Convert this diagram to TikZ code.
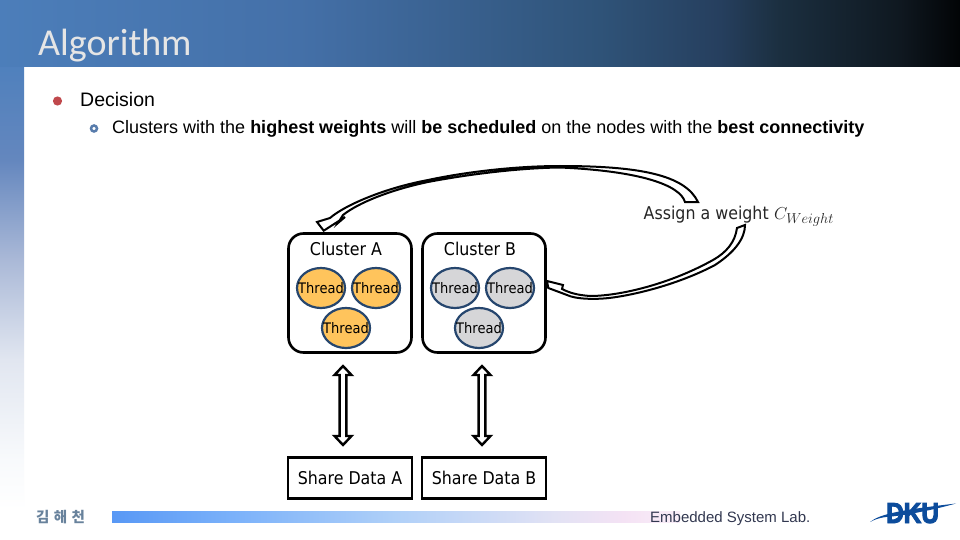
\documentclass[tikz,border=0pt]{standalone}
\usepackage{fontspec}
\setmainfont{Liberation Sans}
\newfontfamily\titlefont{Carlito}
\newfontfamily\diagfont{DejaVu Sans}[FakeStretch=0.9]
\newfontfamily\krfont{Noto Sans CJK KR}
\newfontfamily\logofont{Liberation Sans Bold}[FakeBold=3,FakeStretch=0.84]
\usetikzlibrary{calc,shapes.geometric}
\definecolor{threadline}{RGB}{38,70,110}
\definecolor{threadA}{RGB}{255,196,92}
\definecolor{threadB}{RGB}{214,214,216}
\definecolor{bulletred}{RGB}{192,72,76}
\definecolor{bulletblue}{RGB}{88,124,172}
\definecolor{dkublue}{RGB}{12,76,156}
\definecolor{authorcol}{RGB}{104,130,156}
\definecolor{labcol}{RGB}{50,56,80}
\pgfdeclarehorizontalshading{headshade}{100bp}{
  rgb(0bp)=(.298,.494,.729); rgb(25bp)=(.298,.494,.729); rgb(40.6bp)=(.267,.439,.659); rgb(56.25bp)=(.184,.325,.471); rgb(62.5bp)=(.149,.247,.369); rgb(65.6bp)=(.106,.184,.251); rgb(71.9bp)=(.059,.094,.125); rgb(75bp)=(.008,.016,.024); rgb(100bp)=(.008,.016,.024)}
\pgfdeclareverticalshading{barshade}{100bp}{
  rgb(0bp)=(1,1,1); rgb(25bp)=(1,1,1); rgb(30.5bp)=(.973,.980,.988); rgb(41.7bp)=(.882,.902,.941); rgb(52.8bp)=(.667,.725,.843); rgb(63.9bp)=(.392,.529,.745); rgb(75bp)=(.306,.502,.741); rgb(100bp)=(.306,.502,.741)}
\pgfdeclarehorizontalshading{footshade}{100bp}{
  rgb(0bp)=(.345,.596,.961); rgb(25bp)=(.345,.596,.961); rgb(36bp)=(.486,.698,.980); rgb(50bp)=(.690,.816,.973); rgb(64bp)=(.886,.886,.957); rgb(70bp)=(.957,.886,.957); rgb(75bp)=(.980,.933,.973); rgb(100bp)=(.980,.933,.973)}
\newcommand\thr{\makebox[0pt]{Thread}}
\tikzset{
  x=1pt,y=-1pt,
  diagtext/.style={font=\diagfont\fontsize{17.6}{20}\selectfont,text=black},
  clusterbox/.style={draw=black,line width=2.6pt,rounded corners=15pt,fill=white,minimum width=123pt,minimum height=119pt,inner sep=0pt},
  databox/.style={draw=black,line width=2.6pt,fill=white,minimum width=124pt,minimum height=41pt,inner sep=0pt,diagtext},
  threadnode/.style={ellipse,draw=threadline,line width=2.2pt,minimum width=48pt,minimum height=40pt,inner sep=0pt,font=\diagfont\fontsize{14.5}{16}\selectfont,text=black},
  threadorange/.style={threadnode,fill=threadA},
  threadgray/.style={threadnode,fill=threadB},
  sharearrow/.style={draw=black,line width=2.4pt,fill=white,line join=miter},
  blockarrow/.style={draw=black,line width=2pt,fill=white,line join=miter},
  caption/.style={inner sep=0pt,anchor=base west},
}
\newcommand\sharearr[2]{\draw[sharearrow] (#1) -- ($(#1)+(8.5,9)$) -- ($(#1)+(3.4,9)$) -- ($(#2)+(3.4,-9)$) -- ($(#2)+(8.5,-9)$) -- (#2) -- ($(#2)+(-8.5,-9)$) -- ($(#2)+(-3.4,-9)$) -- ($(#1)+(-3.4,9)$) -- ($(#1)+(-8.5,9)$) -- cycle;}
\begin{document}
\begin{tikzpicture}
\useasboundingbox (0,0) rectangle (960,540);
\fill[white] (0,0) rectangle (960,540);
% header and left band
\shade[shading=barshade] (0,60) rectangle (24,510);
\shade[shading=headshade] (0,0) rectangle (960,67);
\node[caption,font=\titlefont\fontsize{38}{40}\selectfont,text=white!90!black] (title) at (38,56) {Algorithm};
% text lines
\fill[bulletred] (57.5,101) circle (4.6);
\node[caption,font=\fontsize{19.5}{22}\selectfont] (l1) at (80,107) {Decision};
\draw[bulletblue,line width=2.5pt,fill=white] (94,128.5) circle (3);
\node[caption,font=\fontsize{18}{20}\selectfont] (l2) at (112,134) {Clusters with the \textbf{highest weights} will \textbf{be scheduled} on the nodes with the \textbf{best connectivity}};
% clusters
\node[clusterbox] (cA) at (350,293) {};
\node[clusterbox] (cB) at (484,293) {};
\node[diagtext] (cAt) at (346,249) {Cluster A};
\node[diagtext] (cBt) at (480,249) {Cluster B};
\node[threadorange] (a1) at (321,288) {\thr};
\node[threadorange] (a2) at (376,288) {\thr};
\node[threadorange] (a3) at (346,328) {\thr};
\node[threadgray] (b1) at (455,288) {\thr};
\node[threadgray] (b2) at (510,288) {\thr};
\node[threadgray] (b3) at (479,328) {\thr};
% shared data
\node[databox] (dA) at (350,478) {Share Data A};
\node[databox] (dB) at (484,478) {Share Data B};
\coordinate (sA1) at (343,366);
\coordinate (sA2) at (343,445);
\coordinate (sB1) at (482,366);
\coordinate (sB2) at (482,445);
\sharearr{sA1}{sA2}
\sharearr{sB1}{sB2}
% label
\node[caption,font=\diagfont\fontsize{17.6}{20}\selectfont,text=black!85] (assign) at (643.5,219) {Assign a weight};
\node[caption,font=\fontsize{19}{22}\selectfont,text=black!85] (cw) at (774,219) {$C_{Weight}$};
% curved block arrows
\coordinate (tipA) at ($(cA.north west)+(36.5,-1.5)$);
\coordinate (tipB) at ($(cB.east)+(1.5,-5)$);
\draw[blockarrow] (tipA) -- (317,222) -- (330,218)
  .. controls (345,205) and (385,188) .. (428,180)
  .. controls (470,171) and (520,166) .. (560,166)
  .. controls (640,166) and (685,175) .. (698,202)
  -- (685,202)
  .. controls (680,185) and (640,171) .. (560,167.5)
  .. controls (520,168) and (470,174) .. (428,182)
  .. controls (390,190) and (358,203) .. (343,215)
  -- (338,223) -- (345,217) -- cycle;
\draw[blockarrow] (tipB) -- (547,281) -- (563,285) -- (562,289)
  .. controls (570,293) and (577,295) .. (590,296)
  .. controls (620,296) and (670,284) .. (713,260)
  .. controls (727,252) and (735,242) .. (737,228)
  -- (745,225)
  .. controls (745,238) and (735,252) .. (715,265)
  .. controls (685,281) and (645,293) .. (613,297.5)
  .. controls (595,300) and (575,299) .. (567,295)
  -- cycle;
% footer
\shade[shading=footshade] (112,511) rectangle (680,522);
\node[caption,font=\krfont\bfseries\fontsize{14.5}{16}\selectfont,text=authorcol] (author) at (36,522) {김\hspace{1pt} 해\hspace{1pt} 천};
\node[caption,font=\fontsize{15}{16}\selectfont,text=labcol] (lab) at (650,522) {Embedded System Lab.};
% logo
\fill[dkublue] (870,522) .. controls (880,514) and (900,510) .. (956,503.5) .. controls (925,512) and (900,516) .. (886,517) .. controls (878,518) and (874,520) .. (870,522) -- cycle;
\node[caption,font=\logofont\fontsize{29}{30}\selectfont,text=dkublue] (dku) at (886,523) {DKU};
\end{tikzpicture}
\end{document}
